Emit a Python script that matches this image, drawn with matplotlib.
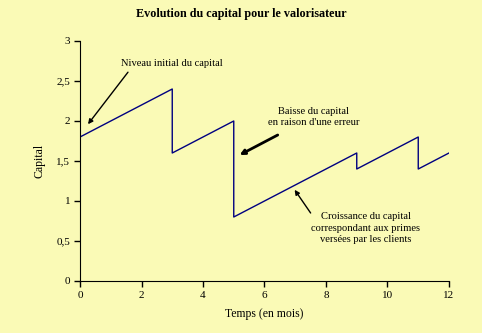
import matplotlib.pyplot as plt
from matplotlib.ticker import FuncFormatter

# donnees (mois, capital) - les sauts sont des points doubles
temps = [0, 3, 3, 5, 5, 9, 9, 11, 11, 12]
capital = [1.8, 2.4, 1.6, 2.0, 0.8, 1.6, 1.4, 1.8, 1.4, 1.6]

fond = '#FAFAB6'
plt.rcParams['font.family'] = 'Liberation Serif'

fig = plt.figure(figsize=(4.82, 3.33), dpi=100, facecolor=fond)
ax = fig.add_axes([80/482, 1 - 281/333, 369/482, 240/333])
ax.set_facecolor(fond)

ax.plot(temps, capital, color='#000080', lw=1)

ax.set_xlim(0, 12)
ax.set_ylim(0, 3)
ax.set_xticks(range(0, 13, 2))
ax.set_yticks([0, 0.5, 1, 1.5, 2, 2.5, 3])
ax.yaxis.set_major_formatter(FuncFormatter(lambda v, p: ('%g' % v).replace('.', ',')))
ax.tick_params(labelsize=8, length=4, width=1, direction='out', pad=3)
for s in ['top', 'right']:
    ax.spines[s].set_visible(False)

ax.set_xlabel('Temps (en mois)', fontsize=8.5, labelpad=6)
ax.set_ylabel('Capital', fontsize=8.5, labelpad=8)
fig.text(0.5, 1 - 14/333, 'Evolution du capital pour le valorisateur',
         ha='center', va='center', fontsize=8.7, fontweight='bold')

fleche = dict(arrowstyle='-|>', color='black', lw=1, mutation_scale=7, shrinkA=0, shrinkB=0)

ax.text(2.99, 2.72, 'Niveau initial du capital', fontsize=7.6, ha='center', va='center')
ax.annotate('', xy=(0.26, 1.96), xytext=(1.56, 2.61), arrowprops=fleche)

ax.text(7.6, 2.05, 'Baisse du capital\nen raison d\'une erreur', fontsize=7.6,
        ha='center', va='center', linespacing=1.2, multialignment='center')
ax.annotate('', xy=(5.19, 1.575), xytext=(6.43, 1.825), arrowprops=dict(fleche, lw=2))

ax.text(9.29, 0.66, 'Croissance du capital\ncorrespondant aux primes\nversées par les clients',
        fontsize=7.6, ha='center', va='center', linespacing=1.35, multialignment='center')
ax.annotate('', xy=(6.98, 1.14), xytext=(7.5, 0.85), arrowprops=fleche)

fig.savefig('out.png', dpi=100, facecolor=fond)
